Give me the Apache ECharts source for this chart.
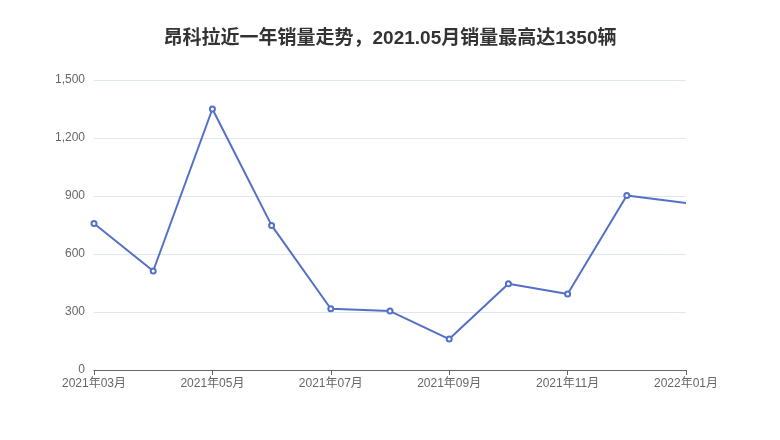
<!DOCTYPE html>
<html>
<head>
<meta charset="utf-8">
<script src="https://cdn.jsdelivr.net/npm/echarts@6/dist/echarts.min.js"></script>
<style>html,body{margin:0;padding:0;background:#fff}#c{width:780px;height:440px}</style>
</head>
<body>
<div id="c"></div>
<script>
var titleText = '昂科拉近一年销量走势，2021.05月销量最高达1350辆';
var categories = ['2021年03月','2021年04月','2021年05月','2021年06月','2021年07月','2021年08月','2021年09月','2021年10月','2021年11月','2021年12月','2022年01月'];
var sales = [758, 512, 1350, 748, 317, 305, 160, 446, 393, 903, 864];
var yTicks = [0, 300, 600, 900, 1200, 1500];

var chart = echarts.init(document.getElementById('c'), null, {renderer: 'canvas'});
var font = '"Liberation Sans", "Noto Sans CJK SC", sans-serif';
chart.setOption({
  animation: false,
  backgroundColor: '#fff',
  title: {
    text: titleText,
    left: 'center',
    top: 24,
    textStyle: {fontFamily: font, fontSize: 19, fontWeight: 'bold', color: '#333'}
  },
  grid: {left: 94, right: 94, top: 80, bottom: 70},
  xAxis: {
    type: 'category',
    data: categories,
    boundaryGap: false,
    axisLine: {lineStyle: {color: '#666'}},
    axisTick: {show: true, interval: 1, alignWithLabel: true},
    axisLabel: {interval: 1, color: '#666', fontSize: 12, fontFamily: font, margin: 8}
  },
  yAxis: {
    type: 'value',
    min: yTicks[0],
    max: yTicks[yTicks.length - 1],
    interval: 300,
    axisLine: {show: false},
    axisTick: {show: false},
    splitLine: {lineStyle: {color: '#e0e6f1'}},
    axisLabel: {color: '#666', fontSize: 12, fontFamily: font, margin: 9}
  },
  series: [{
    type: 'line',
    data: sales.map(function (v, i) {
      return i === sales.length - 1 ? {value: v, symbol: 'none'} : v;
    }),
    symbol: 'emptyCircle',
    symbolSize: 5,
    showAllSymbol: true,
    lineStyle: {width: 2, color: '#5470c6'},
    itemStyle: {color: '#5470c6'}
  }]
});
</script>
</body>
</html>
